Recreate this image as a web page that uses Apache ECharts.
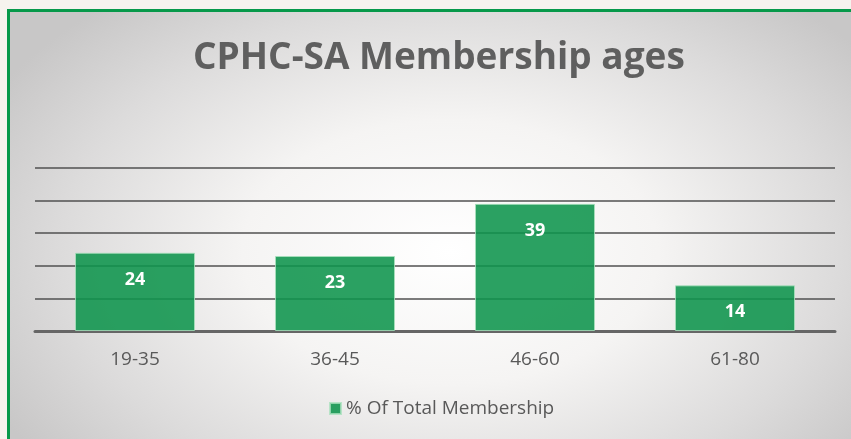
<!DOCTYPE html>
<html>
<head>
<meta charset="utf-8">
<script src="https://cdn.jsdelivr.net/npm/echarts@6/dist/echarts.min.js"></script>
<style>
  html, body { margin: 0; padding: 0; background: #f6f3ee; overflow: hidden; }
  #frame {
    position: absolute; left: 7px; top: 9px; width: 860px; height: 450px;
    border: 3px solid #07994a; box-sizing: border-box;
    background: radial-gradient(ellipse 520px 330px at 440px 240px, #ffffff 0%, #f5f4f3 40%, #dcdbdb 75%, #c8c7c7 100%);
  }
  #chart { position: absolute; left: 0; top: 0; width: 851px; height: 439px; }
</style>
</head>
<body>
<div id="frame"></div>
<div id="chart"></div>
<script>
const categories = ["19-35", "36-45", "46-60", "61-80"]
const shareOfMembers = [24, 23, 39, 14]
const seriesName = "% Of Total Membership"

const chart = echarts.init(document.getElementById("chart"))
chart.setOption({
  backgroundColor: "transparent",
  title: {
    text: "CPHC-SA Membership ages",
    left: 188,
    top: 35,
    textStyle: {
      fontFamily: "Open Sans",
      fontWeight: "bold",
      fontSize: 37,
      color: "#5f5f5f",
    },
  },
  legend: {
    bottom: 16,
    left: 324,
    itemWidth: 11,
    itemHeight: 11,
    itemGap: 6,
    icon: "rect",
    textStyle: { fontFamily: "Open Sans", fontSize: 19, color: "#595959" },
    data: [seriesName],
  },
  grid: { left: 35, right: 16, top: 168, bottom: 108 },
  xAxis: {
    type: "category",
    data: categories,
    axisLine: { lineStyle: { color: "#666666", width: 3 } },
    axisTick: { show: false },
    axisLabel: { fontFamily: "Open Sans", fontSize: 19, color: "#595959", margin: 19 },
  },
  yAxis: {
    type: "value",
    min: 0,
    max: 50,
    interval: 10,
    axisLabel: { show: false },
    axisLine: { show: false },
    axisTick: { show: false },
    splitLine: { lineStyle: { color: "#505050", width: 1.5 } },
  },
  series: [
    {
      name: seriesName,
      type: "bar",
      data: shareOfMembers,
      barWidth: "60%",
      itemStyle: {
        color: "rgba(14,148,76,0.88)",
        borderColor: "rgba(170,225,190,0.8)",
        borderWidth: 1,
      },
      label: {
        show: true,
        position: "insideTop",
        distance: 18,
        fontFamily: "Open Sans",
        fontWeight: "bold",
        fontSize: 18,
        color: "#ffffff",
      },
    },
  ],
})
</script>
</body>
</html>
